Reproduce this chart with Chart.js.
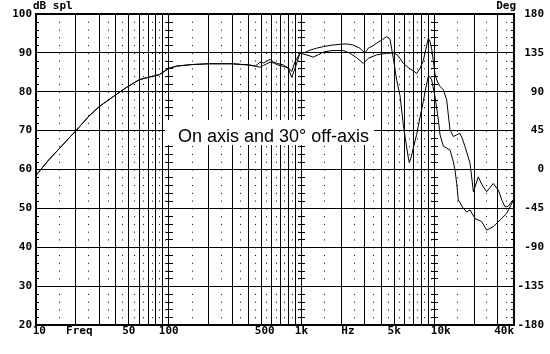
<!DOCTYPE html>
<html lang="en">
<head>
<meta charset="UTF-8">
<title>On axis and 30° off-axis</title>
<script src="https://cdn.jsdelivr.net/npm/chart.js"></script>
<style>
  body { margin: 0; background: #fff; }
  #wrap { width: 550px; height: 354px; }
</style>
</head>
<body>
<div id="wrap"><canvas id="chart" width="550" height="354"></canvas></div>
<script>
// response curves (Hz / dB spl)
const onAxisHz = [10, 12.5, 15, 20, 25, 30, 38, 48, 60, 70, 85, 100, 115, 150, 200, 300, 400, 450,
  488, 520, 548, 580, 620, 652, 731, 797, 845, 895, 975, 1064, 1161, 1230, 1350, 1463, 1700, 2070,
  2300, 2600, 2926, 3192, 3692, 4393, 4929, 5300, 5863, 6505, 6970, 7389, 7834, 8297, 8538, 9040,
  9306, 9590, 9862, 10160, 10465, 11000, 11730, 12440, 12800, 13180, 13960, 14790, 15660, 16300,
  17090, 18650, 19770, 21540, 23000, 24900, 27920, 30480, 32500, 34230, 36000, 40000];
const onAxisDb = [58.5, 62.5, 65.4, 70.0, 73.7, 76.2, 78.7, 81.1, 83.1, 83.7, 84.4, 86.0, 86.6, 87.0, 87.2, 87.2, 86.9, 86.6,
  86.3, 86.8, 87.2, 87.6, 87.4, 87.0, 86.5, 86.2, 85.2, 87.7, 89.9, 89.6, 89.2, 88.9, 89.6, 90.2, 90.6, 90.6,
  90.0, 88.8, 87.3, 88.6, 89.5, 89.9, 90.0, 89.5, 87.3, 86.0, 85.4, 84.7, 86.0, 88.0, 90.0, 93.7,
  93.0, 91.0, 88.0, 84.5, 83.0, 81.5, 80.5, 77.9, 74.0, 70.2, 68.5, 68.9, 69.3, 68.0,
  65.9, 61.6, 54.3, 58.1, 56.0, 54.3, 56.4, 54.7, 52.0, 50.4, 50.5, 52.4];

const offAxisHz = [10, 12.5, 15, 20, 25, 30, 38, 48, 60, 70, 85, 100, 115, 150, 200, 300, 400, 450,
  488, 520, 548, 580, 620, 652, 731, 797, 845, 895, 975, 1064, 1161, 1300, 1463, 1700, 1954, 2200,
  2461, 2750, 3013, 3192, 3450, 3692, 4100, 4393, 4653, 4929, 5224, 5534, 5863, 6034, 6393, 6505,
  6700, 6970, 7389, 7834, 8297, 8538, 9040, 9306, 9590, 10160, 10770, 11075, 11730, 12440, 13180,
  13960, 14360, 14790, 15210, 16590, 17600, 18650, 20330, 22850, 24900, 27920, 31390, 35240, 40000];
const offAxisDb = [58.5, 62.5, 65.4, 70.0, 73.7, 76.2, 78.7, 81.1, 83.1, 83.7, 84.4, 86.0, 86.6, 87.0, 87.2, 87.2, 86.9, 86.6,
  87.6, 87.4, 87.9, 88.3, 87.6, 87.3, 86.9, 86.0, 83.7, 86.0, 89.9, 90.1, 90.7, 91.2, 91.6, 92.0, 92.2, 92.3,
  92.0, 91.2, 90.0, 91.2, 91.8, 92.5, 93.5, 94.2, 93.5, 88.6, 83.0, 79.0, 71.5, 68.5, 63.0, 61.8,
  63.0, 65.5, 69.0, 73.5, 77.5, 80.0, 83.9, 83.8, 83.0, 78.7, 72.7, 69.0, 66.0, 65.5, 65.0,
  62.0, 59.9, 56.5, 52.2, 50.0, 49.1, 49.6, 47.4, 46.6, 44.4, 45.3, 47.0, 48.7, 52.4];

// axis ticks and grid positions
const xTickHz = [10, 20, 50, 100, 500, 1000, 2000, 5000, 10000, 40000];
const xTickLabels = [' 10', ' Freq', '50', '100', ' 500', '1k', '  Hz', '5k', '  10k', '40k   '];
const xGridHz = [10, 20, 30, 40, 50, 60, 70, 80, 90, 100, 200, 300, 400, 500, 600, 700, 800, 900,
  1000, 2000, 3000, 4000, 5000, 6000, 7000, 8000, 9000, 10000, 20000, 30000, 40000];
const xDotHz = [15, 25, 35, 45, 55, 65, 75, 85, 95, 150, 250, 350, 450, 550, 650, 750, 850, 950,
  1500, 2500, 3500, 4500, 5500, 6500, 7500, 8500, 9500, 15000, 25000, 35000];
const decadeHz = [100, 1000, 10000];

const monoFont = { family: 'DejaVu Sans Mono', size: 11, weight: 'bold' };

const framePlugin = {
  id: 'frame',
  afterDatasetsDraw(chart) {
    const ctx = chart.ctx;
    const a = chart.chartArea;
    const x = chart.scales.x, y = chart.scales.y;
    ctx.save();
    ctx.strokeStyle = '#000';
    ctx.lineWidth = 1;
    ctx.beginPath();
    for (let v = 22; v < 100; v += 2) {
      if (v % 10 === 0) continue;
      const py = Math.round(y.getPixelForValue(v)) + 0.5;
      ctx.moveTo(a.left, py); ctx.lineTo(a.left + 3, py);
      ctx.moveTo(a.right - 3, py); ctx.lineTo(a.right, py);
      decadeHz.forEach(f => {
        const px = Math.round(x.getPixelForValue(f));
        ctx.moveTo(px - 3, py); ctx.lineTo(px + 4, py);
      });
    }
    ctx.stroke();

    // caption box
    ctx.fillStyle = '#fff';
    ctx.fillRect(165, 120, 209, 25);
    ctx.fillStyle = '#000';
    ctx.font = '18px "Liberation Sans", Arial, sans-serif';
    ctx.textBaseline = 'alphabetic';
    ctx.textAlign = 'left';
    ctx.fillText('On axis and 30° off-axis', 178, 141.5);

    ctx.font = 'bold 11px "DejaVu Sans Mono", monospace';
    ctx.textBaseline = 'middle';
    ctx.fillText('dB spl', 33, 6);
    ctx.textAlign = 'right';
    ctx.fillText('Deg', 516, 6);
    ctx.restore();
  }
};

const line = (hz, db, label) => ({
  label: label,
  data: hz.map((f, i) => ({ x: f, y: db[i] })),
  borderColor: '#000',
  borderWidth: 1,
  pointRadius: 0,
  tension: 0,
  fill: false
});

new Chart(document.getElementById('chart'), {
  type: 'line',
  data: {
    datasets: [
      line(onAxisHz, onAxisDb, 'On axis'),
      line(offAxisHz, offAxisDb, '30° off-axis')
    ]
  },
  options: {
    responsive: false,
    animation: false,
    devicePixelRatio: 1,
    layout: { padding: { left: 0, right: 6, top: 14, bottom: 0 } },
    plugins: { legend: { display: false }, tooltip: { enabled: false } },
    scales: {
      x: {
        type: 'logarithmic', position: 'bottom', min: 10, max: 40000,
        afterBuildTicks: s => { s.ticks = xTickHz.map(v => ({ value: v })); },
        afterFit: s => { s.height = 29; },
        grid: { display: false, drawTicks: false },
        border: { display: true, color: '#000', width: 2 },
        ticks: {
          autoSkip: false, maxRotation: 0, minRotation: 0, padding: 0,
          color: '#000', font: monoFont,
          callback: (v, i) => xTickLabels[i]
        }
      },
      xGrid: {
        type: 'logarithmic', position: 'bottom', min: 10, max: 40000,
        afterBuildTicks: s => { s.ticks = xGridHz.map(v => ({ value: v })); },
        afterFit: s => { s.height = 0; },
        ticks: { display: false },
        border: { display: false },
        grid: { color: '#000', lineWidth: 1, drawTicks: false }
      },
      xDots: {
        type: 'logarithmic', position: 'bottom', min: 10, max: 40000,
        afterBuildTicks: s => { s.ticks = xDotHz.map(v => ({ value: v })); },
        afterFit: s => { s.height = 0; },
        ticks: { display: false },
        border: { display: false, dash: [1, 6.775] },
        grid: { color: '#000', lineWidth: 1, drawTicks: false }
      },
      y: {
        position: 'left', min: 20, max: 100,
        afterFit: s => { s.width = 36; },
        ticks: { stepSize: 10, padding: 4, color: '#000', font: monoFont },
        grid: {
          color: '#000', drawTicks: false,
          lineWidth: c => (c.tick && c.tick.value === 100 ? 2 : 1)
        },
        border: { color: '#000', width: 2 }
      },
      y2: {
        position: 'right', min: -180, max: 180,
        afterFit: s => { s.width = 30; },
        ticks: { stepSize: 45, crossAlign: 'far', color: '#000', font: monoFont },
        grid: { drawOnChartArea: false, drawTicks: false },
        border: { color: '#000', width: 2 }
      }
    }
  },
  plugins: [framePlugin]
});
</script>
</body>
</html>
